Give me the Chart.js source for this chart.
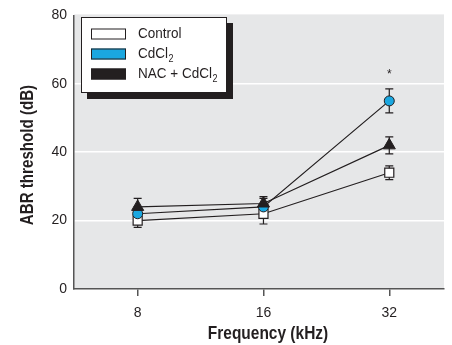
<!DOCTYPE html>
<html>
<head>
    <title>ABR threshold</title>
    <style>
        body { margin: 0; padding: 0; background: #ffffff; }
        #wrap { width: 452px; height: 345px; }
    </style>
</head>
<body>
<div id="wrap"><canvas id="chart" width="452" height="345"></canvas></div>
<script src="https://cdn.jsdelivr.net/npm/chart.js"></script>
<script>
    // Frequencies (kHz) on the x axis
    const frequencies = ['8', '16', '32'];

    // Mean ABR thresholds (dB) and error bars
    const controlMean = [20, 22, 34];
    const controlErr = [2, 3, 2];
    const cdMean = [22, 24, 55];
    const cdErr = [2, 2.5, 3.5];
    const nacMean = [24, 25, 42];
    const nacErr = [2.5, 2, 2.5];

    const yTicks = [0, 20, 40, 60, 80];

    const ink = '#231f20';
    const blue = '#1aa7e0';
    const font = "'Liberation Sans', Arial, sans-serif";

    const toPoints = arr => arr.map((v, i) => ({ x: i, y: v }));

    // draw text squeezed horizontally, to mimic a condensed face
    function narrowText(c, text, x, y, squeeze) {
      c.save();
      c.translate(x, y);
      c.scale(squeeze, 1);
      c.fillText(text, 0, 0);
      c.restore();
    }

    // grey plot background
    const plotBg = {
      id: 'plotBg',
      beforeDraw(chart) {
        const a = chart.chartArea;
        const c = chart.ctx;
        c.save();
        c.fillStyle = '#e6e7e8';
        c.fillRect(a.left, a.top - 1, a.right - a.left, a.bottom - a.top + 1);
        c.restore();
      }
    };

    // axis titles
    const axisTitles = {
      id: 'axisTitles',
      afterDraw(chart) {
        const c = chart.ctx;
        c.save();
        c.fillStyle = ink;
        c.font = 'bold 18px ' + font;
        c.textAlign = 'center';
        c.textBaseline = 'middle';
        narrowText(c, 'Frequency (kHz)', 268, 334, 0.86);
        c.translate(28, 155);
        c.rotate(-Math.PI / 2);
        narrowText(c, 'ABR threshold (dB)', 0, 0, 0.84);
        c.restore();
      }
    };

    // error bars, drawn under the markers
    const errBars = {
      id: 'errBars',
      beforeDatasetsDraw(chart) {
        const c = chart.ctx;
        const xs = chart.scales.x, ys = chart.scales.y;
        const sets = [[controlMean, controlErr], [cdMean, cdErr], [nacMean, nacErr]];
        c.save();
        c.strokeStyle = ink;
        c.lineWidth = 1.2;
        sets.forEach(([m, e]) => {
          m.forEach((v, i) => {
            const x = xs.getPixelForValue(i);
            const y1 = ys.getPixelForValue(v + e[i]);
            const y2 = ys.getPixelForValue(v - e[i]);
            c.beginPath();
            c.moveTo(x, y1); c.lineTo(x, y2);
            c.moveTo(x - 4, y1); c.lineTo(x + 4, y1);
            c.moveTo(x - 4, y2); c.lineTo(x + 4, y2);
            c.stroke();
          });
        });
        // significance mark above CdCl2 at 32 kHz
        const sx = xs.getPixelForValue(2);
        const sy = ys.getPixelForValue(cdMean[2] + cdErr[2]) - 14;
        c.fillStyle = ink;
        c.font = '12px ' + font;
        c.textAlign = 'center';
        c.textBaseline = 'middle';
        c.fillText('*', sx, sy);
        c.restore();
      }
    };

    // boxed legend with drop shadow
    const boxLegend = {
      id: 'boxLegend',
      afterDraw(chart) {
        const c = chart.ctx;
        const bx = 81, by = 17, bw = 146, bh = 76;
        c.save();
        c.fillStyle = ink;
        c.fillRect(bx + 6, by + 6, bw, bh);
        c.fillStyle = '#ffffff';
        c.fillRect(bx, by, bw, bh);
        c.strokeStyle = ink;
        c.lineWidth = 1;
        c.strokeRect(bx + 0.5, by + 0.5, bw - 1, bh - 1);

        const rows = [
          { fill: '#ffffff', text: 'Control', sub: '' },
          { fill: blue, text: 'CdCl', sub: '2' },
          { fill: ink, text: 'NAC + CdCl', sub: '2' }
        ];
        const sq = 0.9;
        rows.forEach((r, i) => {
          const cy = 34 + i * 20;
          c.fillStyle = r.fill;
          c.fillRect(91, cy - 5.5, 35, 11);
          c.strokeStyle = ink;
          c.strokeRect(91.5, cy - 5, 34, 10);
          c.fillStyle = ink;
          c.textAlign = 'left';
          c.textBaseline = 'middle';
          c.font = '15px ' + font;
          narrowText(c, r.text, 138, cy, sq);
          if (r.sub) {
            const w = c.measureText(r.text).width * sq;
            c.font = '10px ' + font;
            narrowText(c, r.sub, 138 + w + 0.5, cy + 5, sq);
          }
        });
        c.restore();
      }
    };

    const ctx = document.getElementById('chart').getContext('2d');

    const chart = new Chart(ctx, {
      type: 'line',
      data: {
        datasets: [
          {
            label: 'Control',
            data: toPoints(controlMean),
            borderColor: ink,
            borderWidth: 1.2,
            pointStyle: 'rect',
            pointRadius: 6.4,
            pointBackgroundColor: '#ffffff',
            pointBorderColor: ink,
            pointBorderWidth: 1.2,
            order: 3
          },
          {
            label: 'CdCl2',
            data: toPoints(cdMean),
            borderColor: ink,
            borderWidth: 1.2,
            pointStyle: 'circle',
            pointRadius: 5,
            pointBackgroundColor: blue,
            pointBorderColor: ink,
            pointBorderWidth: 1,
            order: 2
          },
          {
            label: 'NAC + CdCl2',
            data: toPoints(nacMean),
            borderColor: ink,
            borderWidth: 1.2,
            pointStyle: 'triangle',
            pointRadius: 7,
            pointBackgroundColor: ink,
            pointBorderColor: ink,
            pointBorderWidth: 1,
            order: 1
          }
        ]
      },
      options: {
        responsive: false,
        animation: false,
        events: [],
        layout: { padding: { top: 13, right: 6, bottom: 0, left: 0 } },
        plugins: {
          legend: { display: false },
          tooltip: { enabled: false }
        },
        scales: {
          x: {
            type: 'linear',
            min: -0.506,
            max: 2.435,
            afterBuildTicks: s => { s.ticks = frequencies.map((f, i) => ({ value: i })); },
            afterFit: s => { s.height = 56; },
            ticks: {
              color: ink,
              font: { family: font, size: 14 },
              padding: 9,
              callback: v => frequencies[v]
            },
            grid: {
              drawOnChartArea: false,
              drawTicks: true,
              tickLength: 7,
              color: '#555555',
              lineWidth: 1.5
            },
            border: { display: true, color: '#555555', width: 1.5 }
          },
          y: {
            min: 0,
            max: 80,
            afterBuildTicks: s => { s.ticks = yTicks.map(v => ({ value: v })); },
            afterFit: s => { s.width = 74; },
            ticks: {
              color: ink,
              font: { family: font, size: 14 },
              padding: 7
            },
            grid: {
              drawTicks: false,
              color: c => (c.tick.value === 0 || c.tick.value === 80) ? 'rgba(0,0,0,0)' : '#ffffff',
              lineWidth: 1.5
            },
            border: { display: true, color: '#555555', width: 1.5 }
          }
        }
      },
      plugins: [plotBg, errBars, axisTitles, boxLegend]
    });
</script>
</body>
</html>
